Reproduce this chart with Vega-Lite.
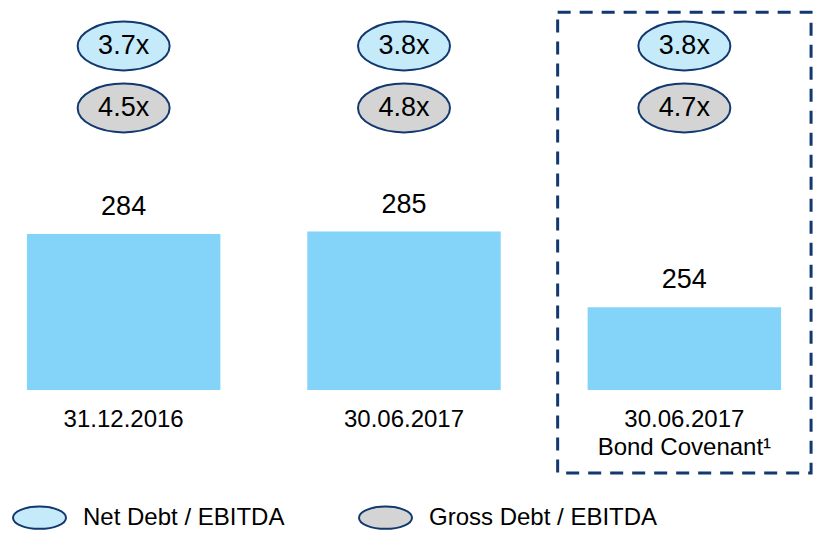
{
  "$schema": "https://vega.github.io/schema/vega-lite/v6.json",
  "width": 808,
  "height": 390,
  "padding": 0,
  "background": "white",
  "config": {"view": {"stroke": null}, "font": "Liberation Sans", "text": {"font": "Liberation Sans", "color": "#000000"}},
  "datasets": {
    "bars": [
      {"period": "31.12.2016", "debt": 284},
      {"period": "30.06.2017", "debt": 285},
      {"period": "30.06.2017|Bond Covenant¹", "debt": 254}
    ],
    "ratios": [
      {"period": "31.12.2016", "metric": "Net Debt / EBITDA", "ratio": "3.7x"},
      {"period": "31.12.2016", "metric": "Gross Debt / EBITDA", "ratio": "4.5x"},
      {"period": "30.06.2017", "metric": "Net Debt / EBITDA", "ratio": "3.8x"},
      {"period": "30.06.2017", "metric": "Gross Debt / EBITDA", "ratio": "4.8x"},
      {"period": "30.06.2017|Bond Covenant¹", "metric": "Net Debt / EBITDA", "ratio": "3.8x"},
      {"period": "30.06.2017|Bond Covenant¹", "metric": "Gross Debt / EBITDA", "ratio": "4.7x"}
    ],
    "box": [{"period": "30.06.2017|Bond Covenant¹"}]
  },
  "encoding": {
    "x": {
      "field": "period",
      "type": "nominal",
      "title": null,
      "scale": {"domain": ["31.12.2016", "30.06.2017", "30.06.2017|Bond Covenant¹"], "paddingInner": 0.31, "paddingOuter": 0.096},
      "axis": {
        "labelExpr": "split(datum.label, '|')",
        "labelAngle": 0,
        "labelFontSize": 24,
        "labelFont": "Liberation Sans",
        "labelColor": "#000000",
        "labelPadding": 17,
        "labelLineHeight": 28,
        "labelLimit": 400,
        "ticks": false,
        "domain": false,
        "grid": false
      }
    }
  },
  "layer": [
    {
      "layer": [
        {
          "data": {"name": "bars"},
          "mark": {"type": "bar", "color": "#84D4FA", "clip": true},
          "encoding": {
            "y": {"field": "debt", "type": "quantitative", "scale": {"domain": [220.4, 378.5], "zero": false}, "axis": null}
          }
        },
        {
          "data": {"name": "bars"},
          "mark": {"type": "text", "fontSize": 27, "dy": -27, "baseline": "middle"},
          "encoding": {
            "y": {"field": "debt", "type": "quantitative"},
            "text": {"field": "debt", "type": "quantitative"}
          }
        },
        {
          "data": {"name": "box"},
          "mark": {"type": "rect", "filled": false, "stroke": "#12386F", "strokeWidth": 3, "strokeDash": [13, 9], "width": {"band": 1.31}, "clip": false},
          "encoding": {
            "y": {"datum": 375},
            "y2": {"datum": 186}
          }
        }
      ]
    },
    {
      "data": {"name": "ratios"},
      "encoding": {
        "y": {
          "field": "metric",
          "type": "nominal",
          "scale": {"type": "point", "domain": ["Net Debt / EBITDA", "Gross Debt / EBITDA"], "range": [46, 108], "padding": 0},
          "axis": null
        }
      },
      "layer": [
        {
          "mark": {"type": "point", "shape": "M-1,0A1,0.53 0 1,1 1,0A1,0.53 0 1,1 -1,0Z", "size": 8464, "filled": true, "opacity": 1, "stroke": "#12386F", "strokeWidth": 2},
          "encoding": {
            "color": {
              "field": "metric",
              "type": "nominal",
              "scale": {"domain": ["Net Debt / EBITDA", "Gross Debt / EBITDA"], "range": ["#C5EBFB", "#D4D4D4"]},
              "legend": {
                "title": null,
                "orient": "none",
                "legendX": 12,
                "legendY": 490,
                "direction": "horizontal",
                "padding": 0,
                "symbolType": "M-1,0A1,0.42 0 1,1 1,0A1,0.42 0 1,1 -1,0Z",
                "symbolSize": 2809,
                "symbolStrokeColor": "#12386F",
                "symbolStrokeWidth": 2,
                "symbolOpacity": 1,
                "labelFontSize": 24,
                "labelFont": "Liberation Sans",
                "labelColor": "#000000",
                "labelOffset": 16,
                "labelLimit": 400,
                "columnPadding": 70
              }
            }
          }
        },
        {
          "mark": {"type": "text", "fontSize": 27, "baseline": "middle"},
          "encoding": {
            "text": {"field": "ratio", "type": "nominal"}
          }
        }
      ]
    }
  ],
  "resolve": {"scale": {"y": "independent"}}
}
